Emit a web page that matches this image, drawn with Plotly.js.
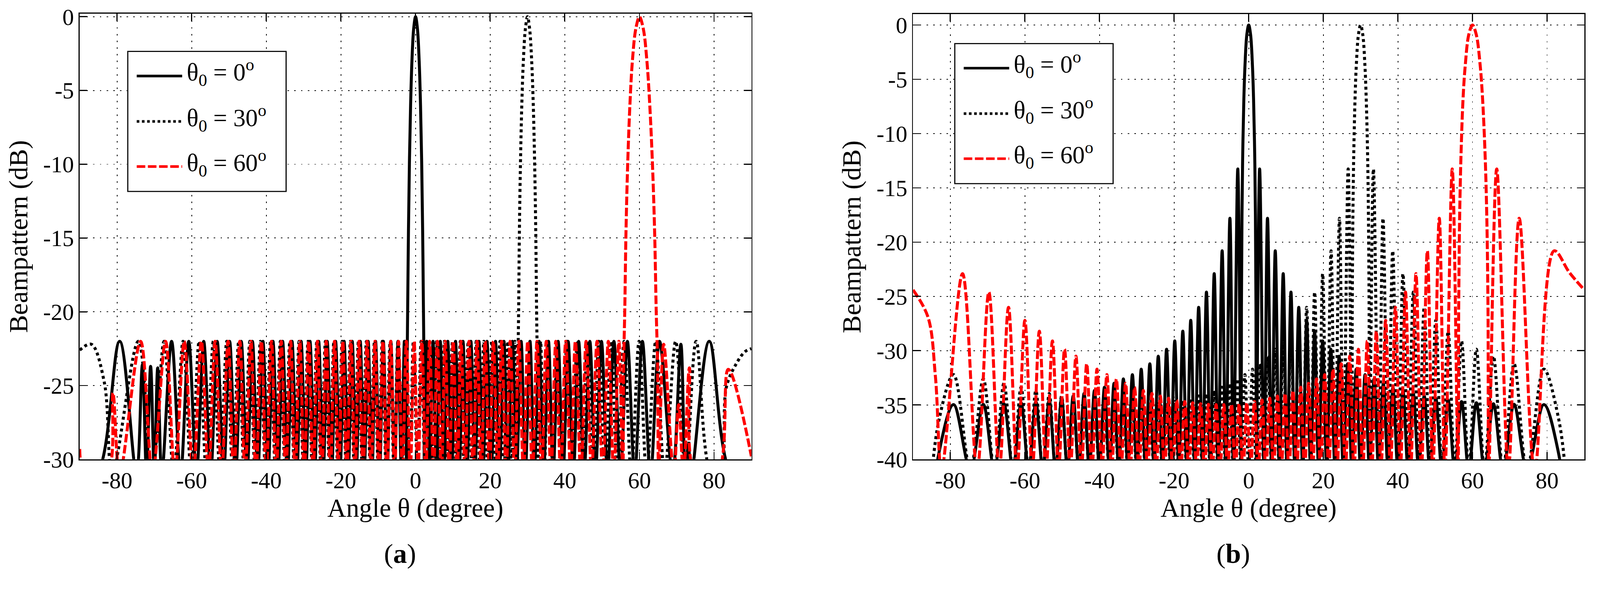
<!DOCTYPE html>
<html>
<head>
<meta charset="utf-8">
<script src="https://cdn.plot.ly/plotly-3.0.1.min.js"></script>
<style>
  html, body { margin: 0; padding: 0; background: #fff; overflow: hidden; }
  #chart { width: 100vw; height: 100vh; }
</style>
</head>
<body>
<div id="chart"></div>
<script>
// tick labels (hyphen minus as in the original figure)
const xTickVals = [-80, -60, -40, -20, 0, 20, 40, 60, 80];
const xTickText = ['-80', '-60', '-40', '-20', '0', '20', '40', '60', '80'];
const aTickVals = [0, -5, -10, -15, -20, -25, -30];
const aTickText = ['0', '-5', '-10', '-15', '-20', '-25', '-30'];
const bTickVals = [0, -5, -10, -15, -20, -25, -30, -35, -40];
const bTickText = ['0', '-5', '-10', '-15', '-20', '-25', '-30', '-35', '-40'];

const xTitle = 'Angle θ (degree)';
const yTitle = 'Beampattern (dB)';
const panelTags = ['(<b>a</b>)', '(<b>b</b>)'];
const legendLabels = ['θ<sub>0</sub> = 0<sup>o</sup>', 'θ<sub>0</sub> = 30<sup>o</sup>', 'θ<sub>0</sub> = 60<sup>o</sup>'];

// panel (a): [angle, dB] (nulls drawn just below the axis floor)
const lobesA0 = [[-90,-31],[-85.5,-31],[-79.3,-22],[-74.8,-31],
  [-73.2,-23.6],[-72.1,-31],[-71.0,-23.7],[-70.0,-31],[-69.1,-23.8],[-68.0,-31],
  [-65.38,-22],[-62.98,-31],[-60.78,-22],[-58.72,-31],[-56.77,-22],[-54.91,-31],[-53.16,-22],[-51.44,-31],[-49.82,-22],[-48.2,-31],
  [-46.71,-22],[-45.17,-31],[-43.71,-22],[-42.29,-31],[-40.9,-22],[-39.53,-31],[-38.21,-22],[-36.87,-31],[-35.62,-22],[-34.31,-31],
  [-33.11,-22],[-31.81,-31],[-30.67,-22],[-29.41,-31],[-28.29,-22],[-27.05,-31],[-25.96,-22],[-24.75,-31],[-23.68,-22],[-22.48,-31],
  [-21.43,-22],[-20.26,-31],[-19.15,-22],[-18.06,-31],[-16.98,-22],[-15.91,-31],[-14.83,-22],[-13.78,-31],[-12.71,-22],[-11.69,-31],
  [-10.72,-22],[-9.65,-31],[-8.64,-22],[-7.62,-31],[-6.62,-22],[-5.64,-31],[-4.69,-22],[-3.79,-31],[-2.99,-22],[-2.38,-31],
  [-2.25,-23.5],[-2.1,-19.5],[-1.9,-14.5],[-1.65,-10],[-1.33,-6],[-0.97,-3],[-0.5,-0.8],[0,0],
  [0.5,-0.8],[0.97,-3],[1.33,-6],[1.65,-10],[1.9,-14.5],[2.1,-19.5],[2.25,-23.5],
  [2.38,-31],[2.99,-22],[3.79,-31],[4.69,-22],[5.64,-31],[6.62,-22],[7.62,-31],[8.64,-22],[9.65,-31],[10.72,-22],
  [11.69,-31],[12.71,-22],[13.78,-31],[14.83,-22],[15.91,-31],[16.98,-22],[18.06,-31],[19.15,-22],[20.26,-31],[21.43,-22],
  [22.48,-31],[23.68,-22],[24.75,-31],[25.96,-22],[27.05,-31],[28.29,-22],[29.41,-31],[30.67,-22],[31.81,-31],[33.11,-22],
  [34.31,-31],[35.62,-22],[36.87,-31],[38.21,-22],[39.53,-31],[40.9,-22],[42.29,-31],[43.71,-22],[45.17,-31],[46.71,-22],
  [48.2,-31],[49.82,-22],[51.44,-31],[53.16,-22],[54.91,-31],[56.77,-22],[58.72,-31],[60.78,-22],[62.98,-31],[65.38,-22],
  [68.9,-31],[71.1,-22.2],[72.3,-31],[73.1,-29],[73.9,-31],[78.7,-22],[84.8,-31],[90,-31]];

const lobesA30 = [[-90,-22.6],[-86.9,-22.2],[-83.4,-24.8],[-81.3,-31],
  [-74.3,-22],[-70.6,-31],[-67.4,-22],[-64.8,-31],[-62.3,-22],[-60.1,-31],[-58.0,-22],[-56.05,-31],[-54.2,-22],[-52.4,-31],
  [-50.6,-22],[-48.98,-31],[-47.39,-22],[-45.9,-31],[-44.41,-22],[-42.98,-31],[-41.57,-22],[-40.19,-31],[-38.85,-22],[-37.53,-31],
  [-36.22,-22],[-34.94,-31],[-33.68,-22],[-32.43,-31],[-31.21,-22],[-30.0,-31],
  [-28.8,-22],[-27.63,-31],[-26.46,-22],[-25.3,-31],[-24.15,-22],[-23.01,-31],[-21.88,-22],[-20.77,-31],[-19.66,-22],[-18.55,-31],
  [-17.47,-22],[-16.37,-31],[-15.31,-22],[-14.21,-31],[-13.18,-22],[-12.08,-31],[-11.01,-22],[-9.95,-31],[-8.91,-22],[-7.84,-31],
  [-6.81,-22],[-5.74,-31],[-4.73,-22],[-3.65,-31],[-2.65,-22],[-1.56,-31],[-0.58,-22],[0.52,-31],[1.49,-22],[2.59,-31],
  [3.57,-22],[4.67,-31],[5.65,-22],[6.75,-31],[7.74,-22],[8.85,-31],[9.9,-22],[10.95,-31],[12.01,-22],[13.06,-31],
  [14.12,-22],[15.18,-31],[16.26,-22],[17.3,-31],[18.3,-22],[19.41,-31],[20.48,-22],[21.56,-31],[22.62,-22],[23.69,-31],
  [24.73,-22],[25.72,-31],[26.61,-22],[27.29,-31],
  [27.44,-23.5],[27.62,-20],[27.83,-14.5],[28.11,-10],[28.47,-6],[28.89,-3],[29.44,-0.8],[30,0],
  [30.56,-0.8],[31.12,-3],[31.55,-6],[31.92,-10],[32.21,-14.5],[32.44,-20],[32.63,-23.5],
  [32.78,-31],[33.51,-22],[34.48,-31],[35.57,-22],[36.75,-31],[37.97,-22],[39.24,-31],[40.56,-22],[41.88,-31],[43.32,-22],
  [44.64,-31],[46.05,-22],[47.58,-31],[49.11,-22],[50.73,-31],[52.37,-22],[54.1,-31],[55.89,-22],[57.8,-31],[59.9,-22],
  [61.93,-31],[64.37,-22],[66.73,-31],[69.7,-22],[72.4,-31],[75.2,-22],[79.3,-31],[81.6,-31],[83.3,-25.1],[86,-23.5],
  [88.3,-22.7],[90,-22.5]];

const lobesA60 = [[-90,-29.3],[-88.6,-31],[-82.7,-31],[-81.1,-25.5],[-79.3,-31],[-73.7,-22],[-70.5,-31],[-67.0,-22],[-64.5,-31],
  [-62.0,-22],[-59.6,-31],[-57.4,-22],[-55.49,-31],[-53.71,-22],[-51.97,-31],[-50.24,-22],[-48.73,-31],[-47.09,-22],[-45.68,-31],
  [-44.12,-22],[-42.78,-31],[-41.3,-22],[-40.02,-31],[-38.61,-22],[-37.36,-31],[-36.0,-22],[-34.78,-31],[-33.48,-22],[-32.27,-31],
  [-31.02,-22],[-29.84,-31],[-28.63,-22],[-27.46,-31],[-26.3,-22],[-25.14,-31],[-23.95,-22],[-22.86,-31],[-21.72,-22],[-20.62,-31],
  [-19.5,-22],[-18.41,-31],[-17.31,-22],[-16.22,-31],[-15.15,-22],[-14.07,-31],[-13.0,-22],[-11.93,-31],[-10.87,-22],[-9.81,-31],
  [-8.75,-22],[-7.7,-31],[-6.65,-22],[-5.61,-31],[-4.56,-22],[-3.51,-31],[-2.47,-22],[-1.43,-31],[-0.38,-22],[0.65,-31],
  [1.7,-22],[2.74,-31],[3.77,-22],[4.82,-31],[5.85,-22],[6.92,-31],[7.93,-22],[9.02,-31],[10.08,-22],[11.14,-31],
  [12.19,-22],[13.27,-31],[14.32,-22],[15.43,-31],[16.48,-22],[17.6,-31],[18.65,-22],[19.8,-31],[20.85,-22],[22.02,-31],
  [23.08,-22],[24.28,-31],[25.35,-22],[26.58,-31],[27.67,-22],[28.92,-31],[30.05,-22],[31.32,-31],[32.55,-22],[33.78,-31],
  [35.03,-22],[36.29,-31],[37.59,-22],[38.89,-31],[40.24,-22],[41.56,-31],[42.84,-22],[44.3,-31],[45.71,-22],[47.17,-31],
  [48.64,-22],[50.15,-31],[51.66,-22],[53.12,-31],[54.48,-22],[55.54,-31],
  [55.77,-23.5],[56.06,-20],[56.4,-14.5],[56.85,-10],[57.44,-6],[58.11,-3],[59.04,-0.8],[60,0],
  [61.02,-0.8],[62.0,-3],[62.77,-6],[63.49,-10],[64.06,-14.5],[64.5,-20],[64.86,-23.5],
  [65.16,-31],[66.5,-22.2],[69.2,-31],[70.5,-26.3],[71.8,-31],[73.4,-23.8],[75.0,-31],[80.8,-31],[83.8,-23.9],[90,-29.8]];

// panel (b)
const lobesB0 = [[-90,-60],[-86,-48],[-83,-39.3],[-79.14,-34.96],[-74.64,-41],[-71.16,-34.93],[-68.21,-41],[-65.62,-34.88],
  [-63.22,-41],[-61.04,-34.79],[-59.0,-41],[-57.07,-34.68],[-55.23,-41],[-53.48,-34.54],[-51.79,-41],[-50.17,-34.37],
  [-48.59,-41],[-47.06,-34.17],[-45.58,-41],[-44.14,-33.94],[-42.74,-41],[-41.36,-33.67],[-40.01,-41],[-38.68,-33.36],
  [-37.38,-41],[-36.11,-33.0],[-34.85,-41],[-33.61,-32.6],[-32.39,-41],[-31.19,-32.2],[-30.0,-41],[-28.82,-31.7],
  [-27.67,-41],[-26.51,-31.2],[-25.38,-41],[-24.25,-30.5],[-23.13,-41],[-22.02,-29.86],[-20.92,-41],[-19.83,-29.1],
  [-18.75,-41],[-17.67,-28.2],[-16.6,-41],[-15.54,-27.2],[-14.48,-41],[-13.42,-26.0],[-12.37,-41],[-11.33,-24.6],
  [-10.29,-41],[-9.25,-22.9],[-8.21,-41],[-7.12,-20.8],[-6.15,-41],[-5.04,-17.8],[-4.1,-41],[-2.93,-13.26],[-2.05,-41],
  [-1.95,-26],[-1.8,-17.5],[-1.6,-11.8],[-1.3,-6.8],[-1.0,-3.73],[-0.5,-0.87],[0,0],
  [0.5,-0.87],[1.0,-3.73],[1.3,-6.8],[1.6,-11.8],[1.8,-17.5],[1.95,-26],
  [2.05,-41],[2.93,-13.26],[4.1,-41],[5.04,-17.8],[6.15,-41],[7.12,-20.8],[8.21,-41],[9.25,-22.9],[10.29,-41],[11.33,-24.6],
  [12.37,-41],[13.42,-26.0],[14.48,-41],[15.54,-27.2],[16.6,-41],[17.67,-28.2],[18.75,-41],[19.83,-29.1],[20.92,-41],
  [22.02,-29.86],[23.13,-41],[24.25,-30.5],[25.38,-41],[26.51,-31.2],[27.67,-41],[28.82,-31.7],[30.0,-41],[31.19,-32.2],
  [32.39,-41],[33.61,-32.6],[34.85,-41],[36.11,-33.0],[37.38,-41],[38.68,-33.36],[40.01,-41],[41.36,-33.67],[42.74,-41],
  [44.14,-33.94],[45.58,-41],[47.06,-34.17],[48.59,-41],[50.17,-34.37],[51.79,-41],[53.48,-34.54],[55.23,-41],[57.07,-34.68],
  [59.0,-41],[61.04,-34.79],[63.22,-41],[65.62,-34.88],[68.21,-41],[71.16,-34.93],[74.64,-41],[79.14,-34.96],[83,-39.3],
  [86,-48],[90,-60]];

const lobesB30 = [[-90,-60],[-86,-45],[-83,-36.3],[-79.14,-32.2],[-74.64,-41],[-71.16,-32.6],[-68.21,-41],[-65.62,-33.0],
  [-63.22,-41],[-61.04,-33.36],[-59.0,-41],[-57.07,-33.67],[-55.23,-41],[-53.48,-33.94],[-51.79,-41],[-50.17,-34.17],
  [-48.59,-41],[-47.06,-34.37],[-45.58,-41],[-44.14,-34.54],[-42.74,-41],[-41.36,-34.68],[-40.01,-41],[-38.68,-34.79],
  [-37.38,-41],[-36.11,-34.88],[-34.85,-41],[-33.61,-34.93],[-32.39,-41],[-31.19,-34.96],[-30.0,-41],
  [-28.82,-34.96],[-27.67,-41],[-26.51,-34.93],[-25.38,-41],[-24.25,-34.88],[-23.13,-41],[-22.02,-34.79],[-20.92,-41],
  [-19.83,-34.68],[-18.75,-41],[-17.67,-34.54],[-16.6,-41],[-15.54,-34.37],[-14.48,-41],[-13.42,-34.17],[-12.37,-41],
  [-11.33,-33.94],[-10.29,-41],[-9.25,-33.67],[-8.21,-41],[-7.18,-33.36],[-6.15,-41],[-5.12,-33.0],[-4.1,-41],
  [-3.07,-32.6],[-2.05,-41],[-1.02,-32.2],[0,-41],[1.02,-31.7],[2.05,-41],[3.07,-31.2],[4.1,-41],[5.12,-30.5],[6.15,-41],
  [7.18,-29.86],[8.21,-41],[9.25,-29.1],[10.29,-41],[11.33,-28.2],[12.37,-41],[13.42,-27.2],[14.48,-41],[15.54,-26.0],
  [16.6,-41],[17.67,-24.6],[18.75,-41],[19.83,-22.9],[20.92,-41],[22.09,-20.8],[23.13,-41],[24.34,-17.8],[25.38,-41],
  [26.67,-13.26],[27.67,-41],
  [27.77,-26],[27.94,-17.5],[28.17,-11.8],[28.51,-6.8],[28.85,-3.73],[29.43,-0.87],[30,0],
  [30.58,-0.87],[31.16,-3.73],[31.51,-6.8],[31.87,-11.8],[32.1,-17.5],[32.28,-26],
  [32.39,-41],[33.44,-13.26],[34.85,-41],[36.0,-17.8],[37.38,-41],[38.61,-20.8],[40.01,-41],[41.36,-22.9],[42.74,-41],
  [44.14,-24.6],[45.58,-41],[47.06,-26.0],[48.59,-41],[50.17,-27.2],[51.79,-41],[53.48,-28.2],[55.23,-41],[57.07,-29.1],
  [59.0,-41],[61.04,-29.86],[63.22,-41],[65.62,-30.5],[68.21,-41],[71.16,-31.2],[74.64,-41],[79.14,-31.7],[83,-36.1],
  [85.5,-43],[90,-60]];

const lobesB60 = [[-90,-24.4],[-86,-26.9],[-84,-32.4],[-82.35,-41],[-76.74,-22.9],[-72.83,-41],[-69.68,-24.6],[-66.88,-41],
  [-64.41,-26.0],[-62.13,-41],[-60.01,-27.2],[-58.03,-41],[-56.14,-28.2],[-54.35,-41],[-52.63,-29.1],[-50.98,-41],
  [-49.38,-29.86],[-47.83,-41],[-46.33,-30.5],[-44.86,-41],[-43.44,-31.2],[-42.05,-41],[-40.68,-31.7],[-39.35,-41],
  [-38.03,-32.2],[-36.75,-41],[-35.48,-32.6],[-34.23,-41],[-33.01,-33.0],[-31.8,-41],[-30.6,-33.36],[-29.42,-41],
  [-28.25,-33.67],[-27.09,-41],[-25.95,-33.94],[-24.82,-41],[-23.7,-34.17],[-22.58,-41],[-21.48,-34.37],[-20.38,-41],
  [-19.29,-34.54],[-18.22,-41],[-17.14,-34.68],[-16.07,-41],[-15.01,-34.79],[-13.95,-41],[-12.9,-34.88],[-11.85,-41],
  [-10.81,-34.93],[-9.77,-41],[-8.74,-34.96],[-7.7,-41],[-6.67,-34.96],[-5.64,-41],[-4.61,-34.93],[-3.59,-41],
  [-2.56,-34.88],[-1.54,-41],[-0.52,-34.79],[0.51,-41],[1.53,-34.68],[2.56,-41],[3.58,-34.54],[4.61,-41],[5.63,-34.37],
  [6.66,-41],[7.7,-34.17],[8.73,-41],[9.76,-33.94],[10.8,-41],[11.85,-33.67],[12.89,-41],[13.95,-33.36],[15.0,-41],
  [16.06,-33.0],[17.13,-41],[18.2,-32.6],[19.29,-41],[20.37,-32.2],[21.47,-41],[22.58,-31.7],[23.69,-41],[24.81,-31.2],
  [25.94,-41],[27.09,-30.5],[28.24,-41],[29.41,-29.86],[30.59,-41],[31.78,-29.1],[33.0,-41],[34.22,-28.2],[35.47,-41],
  [36.73,-27.2],[38.02,-41],[39.34,-26.0],[40.67,-41],[42.04,-24.6],[43.43,-41],[44.85,-22.9],[46.31,-41],[47.9,-20.8],
  [49.37,-41],[51.1,-17.8],[52.62,-41],[54.58,-13.26],[56.13,-41],
  [56.31,-26],[56.57,-17.5],[56.94,-11.8],[57.47,-6.8],[58.06,-3.73],[59.02,-0.87],[60,0],
  [61.01,-0.87],[62.07,-3.73],[62.71,-6.8],[63.37,-11.8],[63.83,-17.5],[64.16,-26],
  [64.38,-41],[66.5,-13.26],[69.62,-41],[72.53,-17.8],[76.68,-41],[81.89,-20.8],[86,-22.8],[90,-24.4]];

// the figure is laid out on a 4295 x 1554 grid and scaled to the viewport
const W0 = 4295, H0 = 1554;
const S = Math.min(window.innerWidth / W0, window.innerHeight / H0);
const serif = 'Liberation Serif, Times New Roman, serif';
const styles = [
  {color: '#000000', dash: 'solid'},
  {color: '#000000', dash: 'dot'},
  {color: '#ff0000', dash: (23 * S) + 'px,' + (7 * S) + 'px'}
];

function px(x) { return x / W0; }
function py(y) { return 1 - y / H0; }

function makeTrace(pairs, style, xa, ya) {
  return {
    x: pairs.map(p => p[0]),
    y: pairs.map(p => p[1]),
    xaxis: xa, yaxis: ya,
    type: 'scatter', mode: 'lines',
    line: {shape: 'spline', smoothing: 1, width: 8 * S, color: style.color, dash: style.dash},
    hoverinfo: 'skip', showlegend: false
  };
}

let data = [
  makeTrace(lobesA0, styles[0], 'x', 'y'),
  makeTrace(lobesA30, styles[1], 'x', 'y'),
  makeTrace(lobesA60, styles[2], 'x', 'y'),
  makeTrace(lobesB0, styles[0], 'x2', 'y2'),
  makeTrace(lobesB30, styles[1], 'x2', 'y2'),
  makeTrace(lobesB60, styles[2], 'x2', 'y2')
];

function baseAxis() {
  return {
    ticks: 'inside', ticklen: 20 * S, tickwidth: 3 * S, tickcolor: '#000',
    showline: true, linewidth: 3 * S, linecolor: '#000', mirror: 'ticks',
    showgrid: true, gridcolor: '#000', gridwidth: 2 * S, griddash: (4 * S) + 'px,' + (14 * S) + 'px',
    zeroline: false, fixedrange: true,
    tickfont: {family: serif, size: 62 * S, color: '#000'}
  };
}

function xAxis(domain) {
  return Object.assign(baseAxis(), {
    domain: domain, range: [-90, 90],
    tickmode: 'array', tickvals: xTickVals, ticktext: xTickText,
    ticklabelstandoff: 4 * S
  });
}

function yAxis(domain, range, vals, text) {
  return Object.assign(baseAxis(), {
    domain: domain, range: range,
    tickmode: 'array', tickvals: vals, ticktext: text,
    ticklabelstandoff: 12 * S
  });
}

function note(x, y, text, size, extra) {
  return Object.assign({
    xref: 'paper', yref: 'paper', x: px(x), y: py(y),
    xanchor: 'center', yanchor: 'middle', showarrow: false,
    text: text, font: {family: serif, size: size * S, color: '#000'}
  }, extra || {});
}

// legend drawn by hand so the line samples keep their long length
function legendParts(left, top) {
  const rows = [66, 188, 309];
  let shapes = [{
    type: 'rect', xref: 'paper', yref: 'paper',
    x0: px(left), x1: px(left + 425), y0: py(top + 376), y1: py(top),
    line: {color: '#000', width: 3 * S}, fillcolor: '#fff'
  }];
  let notes = [];
  for (let i = 0; i < 3; i++) {
    let yy = top + rows[i];
    shapes.push({
      type: 'line', xref: 'paper', yref: 'paper',
      x0: px(left + 24), x1: px(left + 146), y0: py(yy), y1: py(yy),
      line: {color: styles[i].color, width: 7 * S, dash: styles[i].dash}
    });
    notes.push(note(left + 156, yy - 9, legendLabels[i], 66, {xanchor: 'left'}));
  }
  return {shapes, notes};
}

// plot areas in pixels of the 4295 x 1554 grid
const panelA = {l: 214, r: 2017, t: 37, b: 1233};
const panelB = {l: 2451, r: 4253, t: 38, b: 1233};

const legA = legendParts(343, 138);
const legB = legendParts(2563, 117);

const titles = [];
[panelA, panelB].forEach((p, i) => {
  const cx = (p.l + p.r) / 2;
  titles.push(note(cx, 1364, xTitle, 70));
  titles.push(note(p.l - 165, (p.t + p.b) / 2, yTitle, 72, {textangle: -90}));
  titles.push(note(cx - 42, 1486, panelTags[i], 74));
});

const layout = {
  width: W0 * S, height: H0 * S,
  margin: {l: 0, r: 0, t: 0, b: 0},
  paper_bgcolor: '#fff', plot_bgcolor: '#fff',
  showlegend: false,
  xaxis: Object.assign(xAxis([px(panelA.l), px(panelA.r)]), {anchor: 'y'}),
  yaxis: Object.assign(yAxis([py(panelA.b), py(panelA.t)], [-30, 0.2], aTickVals, aTickText), {anchor: 'x'}),
  xaxis2: Object.assign(xAxis([px(panelB.l), px(panelB.r)]), {anchor: 'y2'}),
  yaxis2: Object.assign(yAxis([py(panelB.b), py(panelB.t)], [-40, 1], bTickVals, bTickText), {anchor: 'x2'}),
  shapes: legA.shapes.concat(legB.shapes),
  annotations: legA.notes.concat(legB.notes).concat(titles)
};

Plotly.newPlot('chart', data, layout, {displayModeBar: false, staticPlot: true});
</script>
</body>
</html>
